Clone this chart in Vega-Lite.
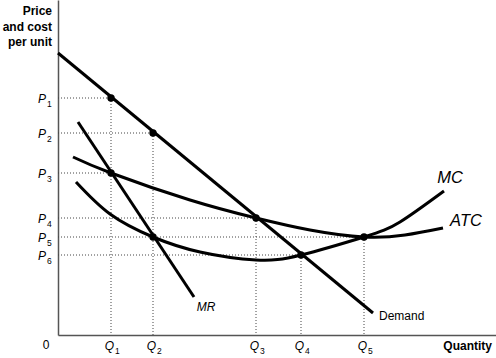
{
  "$schema": "https://vega.github.io/schema/vega-lite/v6.json",
  "width": 438,
  "height": 335,
  "autosize": {"type": "none"},
  "padding": {"left": 58, "top": 0, "right": 0, "bottom": 23},
  "background": "white",
  "config": {
    "view": {"stroke": null},
    "font": "Liberation Sans",
    "axis": {"domain": true, "domainColor": "#555555", "domainWidth": 1.5, "ticks": false, "labels": false, "grid": false}
  },
  "datasets": {
    "one": [{}],
    "guides": [
      {"x": 0, "y": 237, "x2": 53, "y2": 237},
      {"x": 53, "y": 237, "x2": 53, "y2": 0},
      {"x": 0, "y": 202, "x2": 95, "y2": 202},
      {"x": 95, "y": 202, "x2": 95, "y2": 0},
      {"x": 0, "y": 162, "x2": 53, "y2": 162},
      {"x": 0, "y": 117, "x2": 198, "y2": 117},
      {"x": 198, "y": 117, "x2": 198, "y2": 0},
      {"x": 0, "y": 98, "x2": 306, "y2": 98},
      {"x": 306, "y": 98, "x2": 306, "y2": 0},
      {"x": 0, "y": 80, "x2": 243, "y2": 80},
      {"x": 243, "y": 80, "x2": 243, "y2": 0}
    ],
    "curves": [
      {"curve": "Demand", "q": 0, "p": 282},
      {"curve": "Demand", "q": 315, "p": 22},
      {"curve": "MR", "q": 20, "p": 213},
      {"curve": "MR", "q": 136, "p": 38},
      {"curve": "ATC", "q": 15, "p": 178},
      {"curve": "ATC", "q": 53, "p": 162},
      {"curve": "ATC", "q": 132, "p": 135},
      {"curve": "ATC", "q": 198, "p": 117},
      {"curve": "ATC", "q": 252, "p": 105},
      {"curve": "ATC", "q": 306, "p": 98},
      {"curve": "ATC", "q": 347, "p": 100},
      {"curve": "ATC", "q": 385, "p": 107},
      {"curve": "MC", "q": 18, "p": 153},
      {"curve": "MC", "q": 52, "p": 121},
      {"curve": "MC", "q": 95, "p": 98},
      {"curve": "MC", "q": 142, "p": 83},
      {"curve": "MC", "q": 198, "p": 75},
      {"curve": "MC", "q": 243, "p": 80},
      {"curve": "MC", "q": 306, "p": 98},
      {"curve": "MC", "q": 342, "p": 113},
      {"curve": "MC", "q": 386, "p": 144}
    ],
    "dots": [
      {"q": 53, "p": 237},
      {"q": 95, "p": 202},
      {"q": 53, "p": 162},
      {"q": 95, "p": 98},
      {"q": 198, "p": 117},
      {"q": 243, "p": 80},
      {"q": 306, "p": 98}
    ],
    "plabels": [
      {"sub": "1", "p": 237},
      {"sub": "2", "p": 202},
      {"sub": "3", "p": 162},
      {"sub": "4", "p": 117},
      {"sub": "5", "p": 98},
      {"sub": "6", "p": 80}
    ],
    "qlabels": [
      {"sub": "1", "q": 53},
      {"sub": "2", "q": 95},
      {"sub": "3", "q": 198},
      {"sub": "4", "q": 243},
      {"sub": "5", "q": 306}
    ],
    "bigcurvelabels": [
      {"label": "MC", "q": 392, "p": 157},
      {"label": "ATC", "q": 408, "p": 114}
    ]
  },
  "layer": [
    {
      "data": {"name": "guides"},
      "mark": {"type": "rule", "strokeDash": [1, 2], "strokeWidth": 1, "color": "#444444"},
      "encoding": {
        "x": {"field": "x", "type": "quantitative", "scale": {"domain": [0, 438], "nice": false}, "title": null},
        "y": {"field": "y", "type": "quantitative", "scale": {"domain": [0, 335], "nice": false}, "title": null},
        "x2": {"field": "x2"},
        "y2": {"field": "y2"}
      }
    },
    {
      "data": {"name": "curves"},
      "mark": {"type": "line", "interpolate": "natural", "strokeWidth": 3, "color": "black", "strokeCap": "butt"},
      "encoding": {
        "x": {"field": "q", "type": "quantitative", "title": null},
        "y": {"field": "p", "type": "quantitative", "title": null},
        "detail": {"field": "curve"}
      }
    },
    {
      "data": {"name": "dots"},
      "mark": {"type": "circle", "size": 55, "color": "black", "opacity": 1},
      "encoding": {
        "x": {"field": "q", "type": "quantitative", "title": null},
        "y": {"field": "p", "type": "quantitative", "title": null}
      }
    },
    {
      "data": {"name": "bigcurvelabels"},
      "mark": {"type": "text", "fontStyle": "italic", "fontSize": 16.5, "align": "center", "baseline": "middle", "color": "black"},
      "encoding": {
        "x": {"field": "q", "type": "quantitative", "title": null},
        "y": {"field": "p", "type": "quantitative", "title": null},
        "text": {"field": "label"}
      }
    },
    {
      "data": {"name": "one"},
      "mark": {"type": "text", "fontStyle": "italic", "fontSize": 12, "align": "center", "baseline": "middle", "color": "black"},
      "encoding": {
        "x": {"datum": 148, "type": "quantitative"},
        "y": {"datum": 28, "type": "quantitative"},
        "text": {"value": "MR"}
      }
    },
    {
      "data": {"name": "one"},
      "mark": {"type": "text", "fontSize": 12, "align": "left", "baseline": "middle", "color": "black"},
      "encoding": {
        "x": {"datum": 321, "type": "quantitative"},
        "y": {"datum": 19, "type": "quantitative"},
        "text": {"value": "Demand"}
      }
    },
    {
      "data": {"name": "plabels"},
      "mark": {"type": "text", "fontStyle": "italic", "fontSize": 12, "align": "right", "baseline": "middle", "dx": -12, "dy": 1, "color": "black"},
      "encoding": {
        "x": {"datum": 0, "type": "quantitative"},
        "y": {"field": "p", "type": "quantitative", "title": null},
        "text": {"value": "P"}
      }
    },
    {
      "data": {"name": "plabels"},
      "mark": {"type": "text", "fontSize": 8.5, "align": "left", "baseline": "middle", "dx": -11, "dy": 5.5, "color": "black"},
      "encoding": {
        "x": {"datum": 0, "type": "quantitative"},
        "y": {"field": "p", "type": "quantitative", "title": null},
        "text": {"field": "sub"}
      }
    },
    {
      "data": {"name": "qlabels"},
      "mark": {"type": "text", "fontStyle": "italic", "fontSize": 12, "align": "center", "baseline": "middle", "dx": -1.5, "dy": 11, "color": "black"},
      "encoding": {
        "x": {"field": "q", "type": "quantitative", "title": null},
        "y": {"datum": 0, "type": "quantitative"},
        "text": {"value": "Q"}
      }
    },
    {
      "data": {"name": "qlabels"},
      "mark": {"type": "text", "fontSize": 8.5, "align": "left", "baseline": "middle", "dx": 4, "dy": 15.5, "color": "black"},
      "encoding": {
        "x": {"field": "q", "type": "quantitative", "title": null},
        "y": {"datum": 0, "type": "quantitative"},
        "text": {"field": "sub"}
      }
    },
    {
      "data": {"name": "one"},
      "mark": {"type": "text", "fontSize": 12, "align": "center", "baseline": "middle", "dx": -12, "dy": 10, "color": "black"},
      "encoding": {
        "x": {"datum": 0, "type": "quantitative"},
        "y": {"datum": 0, "type": "quantitative"},
        "text": {"value": "0"}
      }
    },
    {
      "data": {"name": "one"},
      "mark": {"type": "text", "fontSize": 12, "fontWeight": "bold", "align": "right", "baseline": "middle", "dy": 11, "color": "black"},
      "encoding": {
        "x": {"datum": 434, "type": "quantitative"},
        "y": {"datum": 0, "type": "quantitative"},
        "text": {"value": "Quantity"}
      }
    },
    {
      "data": {"name": "one"},
      "mark": {"type": "text", "fontSize": 12, "fontWeight": "bold", "align": "right", "baseline": "alphabetic", "lineHeight": 15.5, "dx": -6, "color": "black"},
      "encoding": {
        "x": {"datum": 0, "type": "quantitative"},
        "y": {"datum": 320, "type": "quantitative"},
        "text": {"value": ["Price", "and cost", "per unit"]}
      }
    }
  ]
}
